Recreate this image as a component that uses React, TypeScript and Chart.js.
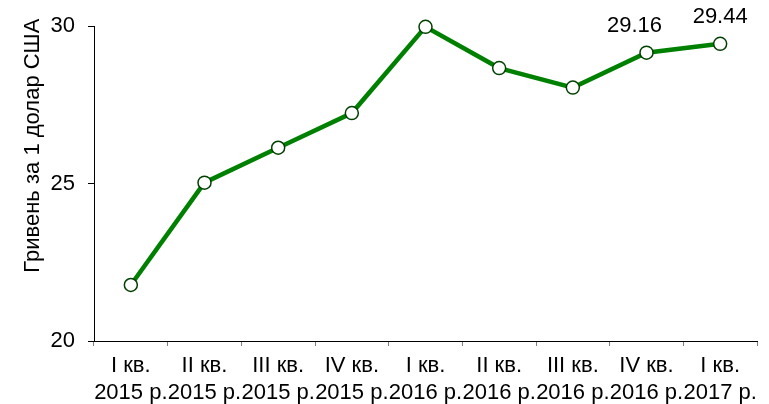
import React, { useEffect, useRef } from "react";
import { Chart, registerables } from "chart.js";

Chart.register(...registerables);

const quarters: string[] = ["I кв.", "II кв.", "III кв.", "IV кв.", "I кв.", "II кв.", "III кв.", "IV кв.", "I кв."];
const years: string[] = ["2015 р.", "2015 р.", "2015 р.", "2015 р.", "2016 р.", "2016 р.", "2016 р.", "2016 р.", "2017 р."];
const rates: number[] = [21.78, 25.03, 26.14, 27.24, 29.98, 28.67, 28.05, 29.16, 29.44];
const labelledPoints: number[] = [7, 8];
const yTicks: number[] = [20, 25, 30];
const yTitle = "Гривень за 1 долар США";

const FONT = 'Arial, "Liberation Sans", sans-serif';

export default function App() {
  const ref = useRef<HTMLCanvasElement | null>(null);

  useEffect(() => {
    document.body.style.margin = "0";
    const canvas = ref.current;
    if (!canvas) return;

    const overlay = {
      id: "overlay",
      afterDatasetsDraw(chart: any) {
        const ctx = chart.ctx;
        const meta = chart.getDatasetMeta(0);
        ctx.save();
        ctx.fillStyle = "#000";
        ctx.font = `22px ${FONT}`;
        ctx.textAlign = "center";
        ctx.textBaseline = "alphabetic";
        labelledPoints.forEach((i, k) => {
          const pt = meta.data[i];
          const dx = k === 0 ? -12 : 0;
          ctx.fillText(rates[i].toFixed(2), pt.x + dx, pt.y - 21);
        });
        // y-axis title
        const area = chart.chartArea;
        ctx.translate(33, (area.top + area.bottom) / 2 - 38);
        ctx.rotate(-Math.PI / 2);
        ctx.textBaseline = "middle";
        ctx.font = `22px ${FONT}`;
        ctx.fillText(yTitle, 0, 0);
        ctx.restore();
      },
    };

    const chart = new Chart(canvas, {
      type: "line",
      data: {
        labels: quarters.map((q, i) => [q, years[i]]),
        datasets: [
          {
            data: rates,
            borderColor: "#008000",
            borderWidth: 4.5,
            pointBackgroundColor: "#ffffff",
            pointBorderColor: "#004000",
            pointBorderWidth: 1.5,
            pointRadius: 6.5,
            pointHoverRadius: 6.5,
            tension: 0,
            fill: false,
            clip: false,
          },
        ],
      },
      options: {
        animation: false,
        responsive: false,
        maintainAspectRatio: false,
        layout: { padding: { top: 26, right: 12, left: 0, bottom: 0 } },
        plugins: {
          legend: { display: false },
          tooltip: { enabled: false },
          title: { display: false },
        },
        scales: {
          x: {
            type: "category",
            offset: true,
            grid: {
              offset: true,
              drawOnChartArea: false,
              drawTicks: true,
              tickLength: 5,
              color: "#808080",
            },
            border: { display: true, color: "#000", width: 1 },
            ticks: {
              color: "#000",
              font: { family: FONT, size: 22, lineHeight: 1.23 },
              padding: 6,
              maxRotation: 0,
              autoSkip: false,
            },
            afterFit(scale: any) {
              scale.height = 63;
            },
          },
          y: {
            min: 20,
            max: 30,
            afterBuildTicks(scale: any) {
              scale.ticks = yTicks.map((v) => ({ value: v }));
            },
            grid: {
              drawOnChartArea: false,
              drawTicks: true,
              tickLength: 6,
              color: "#000",
            },
            border: { display: true, color: "#000", width: 1 },
            ticks: {
              color: "#000",
              font: { family: FONT, size: 22 },
              padding: 13,
            },
            afterFit(scale: any) {
              scale.width = 94;
            },
          },
        },
      },
      plugins: [overlay],
    });

    return () => chart.destroy();
  }, []);

  return (
    <div style={{ position: "absolute", left: 0, top: 0, width: 769, height: 404, background: "#fff" }}>
      <canvas ref={ref} width={769} height={404} style={{ display: "block", width: 769, height: 404 }} />
    </div>
  );
}
